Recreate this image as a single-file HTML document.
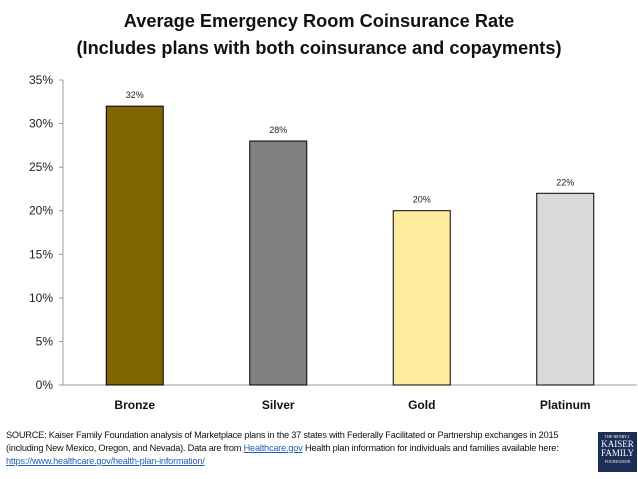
<!DOCTYPE html>
<html><head><meta charset="utf-8"><style>
body{margin:0;width:638px;height:479px;background:#fff;font-family:"Liberation Sans",sans-serif;overflow:hidden;position:relative}
#title{position:absolute;top:8px;left:0;width:638px;text-align:center;font-weight:bold;font-size:18.2px;line-height:27px;color:#111}
#src{position:absolute;left:6px;top:429px;width:590px;font-size:9.2px;line-height:13px;color:#111;letter-spacing:-0.2px}
#src a{color:#1f5fb5;text-decoration:underline}
#logo{position:absolute;left:598px;top:432px;width:39px;height:40px;background:#1c2e55;color:#fff;font-family:"Liberation Serif",serif;text-align:center;font-size:9px;line-height:9px}
</style></head><body>
<div id="title">Average Emergency Room Coinsurance Rate<br>(Includes plans with both coinsurance and copayments)</div>
<svg id="chart" width="638" height="420" style="position:absolute;left:0;top:0"></svg>
<div id="src">SOURCE: Kaiser Family Foundation analysis of Marketplace plans in the 37 states with Federally Facilitated or Partnership exchanges in 2015 (including New Mexico, Oregon, and Nevada). Data are from <a>Healthcare.gov</a> Health plan information for individuals and families available here: <a>https://www.healthcare.gov/health-plan-information/</a></div>
<div id="logo"><div style="font-size:4px;line-height:6px;margin-top:2px">THE HENRY J.</div>KAISER<br>FAMILY<div style="font-size:4px;line-height:7px">FOUNDATION</div></div>
<script>
const categories=["Bronze","Silver","Gold","Platinum"];
const values=[32,28,20,22];
const colors=["#7f6500","#808080","#ffeb9c","#d9d9d9"];
const ticks=[0,5,10,15,20,25,30,35];
const svg=document.getElementById('chart');
const NS='http://www.w3.org/2000/svg';
const x0=63,x1=637,y0=385,y1=80;
const yS=v=>y0-(v/35)*(y0-y1);
const band=(x1-x0)/categories.length;
const xS=i=>x0+band*(i+0.5);
function mk(t,a){const e=document.createElementNS(NS,t);for(const k in a)e.setAttribute(k,a[k]);svg.appendChild(e);return e;}
const ax=mk('line',{x1:x0,y1:y1,x2:x0,y2:y0,stroke:'#999'});


const bx=mk('line',{x1:x0,y1:y0,x2:x1,y2:y0,stroke:'#999'});


ticks.forEach(t=>{
 mk('line',{x1:x0-4,y1:yS(t),x2:x0,y2:yS(t),stroke:'#999'});
 const tx=mk('text',{x:x0-10,y:yS(t)+4,'text-anchor':'end','font-size':'12','fill':'#222'});
 tx.textContent=t+'%';
 
 
});
categories.forEach((c,i)=>{
 const w=57;
 const r=mk('rect',{x:xS(i)-w/2,y:yS(values[i]),width:w,height:y0-yS(values[i]),fill:colors[i],stroke:'#000','stroke-width':1});
 
 
 const l=mk('text',{x:xS(i),y:yS(values[i])-8,'text-anchor':'middle','font-size':'9','fill':'#222'});
 l.textContent=values[i]+'%';
 
 
 const cl=mk('text',{x:xS(i),y:409,'text-anchor':'middle','font-size':'12','font-weight':'bold','fill':'#111'});
 cl.textContent=c;
 
 
});
</script>
</body></html>
